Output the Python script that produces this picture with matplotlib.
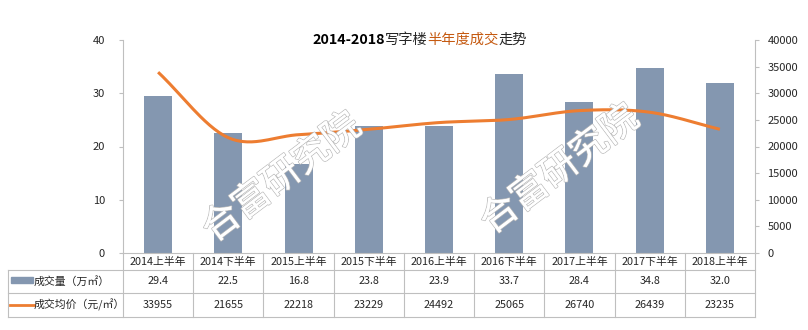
import numpy as np
import matplotlib
matplotlib.use("Agg")
import matplotlib.pyplot as plt
import matplotlib.patheffects as pe
from matplotlib.lines import Line2D
from matplotlib.patches import Rectangle
from matplotlib.offsetbox import TextArea, HPacker, AnchoredOffsetbox

plt.rcParams['font.family'] = ['Noto Sans CJK SC', 'DejaVu Sans']

categories = ["2014上半年", "2014下半年", "2015上半年", "2015下半年", "2016上半年",
              "2016下半年", "2017上半年", "2017下半年", "2018上半年"]
volume = [29.4, 22.5, 16.8, 23.8, 23.9, 33.7, 28.4, 34.8, 32.0]
price = [33955, 21655, 22218, 23229, 24492, 25065, 26740, 26439, 23235]
volume_label = "成交量（万㎡）"
price_label = "成交均价（元/㎡）"
left_ticks = [0, 10, 20, 30, 40]
right_ticks = [0, 5000, 10000, 15000, 20000, 25000, 30000, 35000, 40000]
title_parts = [("2014-2018", "#000000", "bold"), ("写字楼", "#262626", "normal"),
               ("半年度成交", "#C55A11", "normal"), ("走势", "#262626", "normal")]

BAR = "#8497B0"
LINE = "#ED7D31"
GRID = "#BFBFBF"
TXT = "#262626"

W, H = 808, 330
fig = plt.figure(figsize=(W / 100, H / 100), dpi=100)

# plot area in pixel coordinates
px_l, px_r, px_t, px_b = 123, 755, 40, 253
ax = fig.add_axes([px_l / W, 1 - px_b / H, (px_r - px_l) / W, (px_b - px_t) / H])
n = len(categories)
x = np.arange(n)
ax.bar(x, volume, width=0.4, color=BAR, zorder=2)
ax.set_xlim(-0.5, n - 0.5)
ax.set_ylim(0, 40)
ax.set_yticks(left_ticks)
ax.set_xticks([])
for s in ["top", "right"]:
    ax.spines[s].set_visible(False)
ax.spines["left"].set_color(GRID)
ax.spines["bottom"].set_color(GRID)
ax.tick_params(axis="y", colors=GRID, labelcolor=TXT, labelsize=8, length=3, pad=10)

ax2 = ax.twinx()
ax2.set_ylim(0, 40000)
ax2.set_yticks(right_ticks)
for s in ["top", "left", "bottom"]:
    ax2.spines[s].set_visible(False)
ax2.spines["right"].set_color(GRID)
ax2.tick_params(axis="y", colors=GRID, labelcolor=TXT, labelsize=8, length=3, pad=6)


def catmull_rom(xs, ys, steps=30):
    xs = np.asarray(xs, float)
    ys = np.asarray(ys, float)
    px = np.concatenate([[2 * xs[0] - xs[1]], xs, [2 * xs[-1] - xs[-2]]])
    py = np.concatenate([[2 * ys[0] - ys[1]], ys, [2 * ys[-1] - ys[-2]]])
    outx, outy = [], []
    for i in range(1, len(px) - 2):
        t = np.linspace(0, 1, steps, endpoint=False)
        for arr, out in ((px, outx), (py, outy)):
            p0, p1, p2, p3 = arr[i - 1], arr[i], arr[i + 1], arr[i + 2]
            out.extend(0.5 * ((2 * p1) + (-p0 + p2) * t
                              + (2 * p0 - 5 * p1 + 4 * p2 - p3) * t ** 2
                              + (-p0 + 3 * p1 - 3 * p2 + p3) * t ** 3))
    outx.append(xs[-1])
    outy.append(ys[-1])
    return np.array(outx), np.array(outy)


sx, sy = catmull_rom(x, price)
ax2.plot(sx, sy, color=LINE, lw=2.2, solid_capstyle="butt", zorder=3)

# watermark: outlined text with white fill
for cx, cy in [(282, 178), (560, 170)]:
    fig.text(cx / W, 1 - cy / H, "合富研究院", fontsize=27, rotation=37,
             ha="center", va="center", color="white",
             path_effects=[pe.withStroke(linewidth=1.2, foreground="#BDBDBD"),
                           pe.Normal()], zorder=10)

# title built from coloured pieces
boxes = [TextArea(s, textprops=dict(color=c, fontweight=w, fontsize=10.3))
         for s, c, w in title_parts]
pack = HPacker(children=boxes, pad=0, sep=0, align="baseline")
anch = AnchoredOffsetbox(loc="center left", child=pack, pad=0, frameon=False,
                         bbox_to_anchor=(312 / W, 1 - 40 / H),
                         bbox_transform=fig.transFigure, borderpad=0)
fig.add_artist(anch)


# data table
def fx(p):
    return p / W


def fy(p):
    return 1 - p / H


rows = [253, 270, 293, 317]
tbl_l = 8
col_w = (px_r - px_l) / n
line_kw = dict(color=GRID, lw=0.8, transform=fig.transFigure)
for r in rows[1:]:
    fig.add_artist(Line2D([fx(tbl_l), fx(px_r)], [fy(r)] * 2, **line_kw))
fig.add_artist(Line2D([fx(tbl_l)] * 2, [fy(rows[1]), fy(rows[3])], **line_kw))
for i in range(n + 1):
    xp = px_l + i * col_w
    fig.add_artist(Line2D([fx(xp)] * 2, [fy(rows[0]), fy(rows[3])], **line_kw))

fs = 7.8
for i in range(n):
    xc = px_l + (i + 0.5) * col_w
    fig.text(fx(xc), fy((rows[0] + rows[1]) / 2), categories[i], fontsize=fs,
             ha="center", va="center", color=TXT)
    fig.text(fx(xc), fy((rows[1] + rows[2]) / 2), f"{volume[i]:.1f}", fontsize=fs,
             ha="center", va="center", color=TXT)
    fig.text(fx(xc), fy((rows[2] + rows[3]) / 2), f"{price[i]}", fontsize=fs,
             ha="center", va="center", color=TXT)

# legend keys inside the table
yk1 = (rows[1] + rows[2]) / 2
yk2 = (rows[2] + rows[3]) / 2
fig.add_artist(Rectangle((fx(11), fy(yk1 + 1)), fx(33) - fx(11), (6 / H),
                         color=BAR, transform=fig.transFigure))
fig.add_artist(Line2D([fx(10), fx(34)], [fy(yk2)] * 2, color=LINE, lw=2,
                      transform=fig.transFigure))
fig.text(fx(34), fy(yk1), volume_label, fontsize=fs, ha="left", va="center", color=TXT)
fig.text(fx(34), fy(yk2), price_label, fontsize=fs, ha="left", va="center", color=TXT)

fig.savefig("out.png", dpi=100, facecolor="white")
